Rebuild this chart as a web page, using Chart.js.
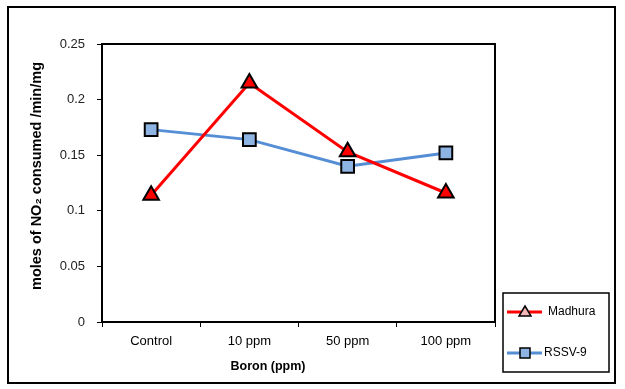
<!DOCTYPE html>
<html>
<head>
<meta charset="utf-8">
<script src="https://cdn.jsdelivr.net/npm/chart.js@4.4.0/dist/chart.umd.min.js"></script>
<style>
    body { margin: 0; background: #fff; }
    canvas { display: block; }
</style>
</head>
<body>
<canvas id="nitriteChart" width="625" height="389"></canvas>
<script>
const categories = ["Control", "10 ppm", "50 ppm", "100 ppm"];
const madhura = [0.114, 0.215, 0.153, 0.116];
const rssv9 = [0.173, 0.164, 0.140, 0.152];
const seriesNames = ["Madhura", "RSSV-9"];

const FONT = "'Liberation Sans', Arial, sans-serif";

// frame, plot border, axis titles and the boxed legend on the right
const decorations = {
    id: "decorations",
    beforeDatasetsDraw(chart) {
        const ctx = chart.ctx;
        const a = chart.chartArea;
        ctx.save();
        ctx.strokeStyle = "#000";
        ctx.lineWidth = 2;
        ctx.strokeRect(a.left, a.top, a.right - a.left, a.bottom - a.top);
        ctx.restore();
    },
    afterDraw(chart) {
        const ctx = chart.ctx;
        ctx.save();

        // outer chart border
        ctx.strokeStyle = "#000";
        ctx.lineWidth = 2;
        ctx.strokeRect(8, 7, 607, 376);

        // axis titles
        ctx.fillStyle = "#000";
        ctx.font = "bold 12.5px " + FONT;
        ctx.textAlign = "center";
        ctx.textBaseline = "middle";
        ctx.fillText("Boron (ppm)", 268, 367);

        ctx.save();
        ctx.font = "bold 14.5px " + FONT;
        ctx.translate(37, 176);
        ctx.rotate(-Math.PI / 2);
        ctx.fillText("moles of NO\u2082 consumed /min/mg", 0, 0);
        ctx.restore();

        // legend
        ctx.lineWidth = 1.5;
        ctx.strokeStyle = "#000";
        ctx.strokeRect(503, 293, 106, 79);

        const rows = [
            { y: 312, text: seriesNames[0], textX: 548, color: "#ff0000", fill: "#f4b6b6", shape: "triangle" },
            { y: 353, text: seriesNames[1], textX: 544, color: "#558ed5", fill: "#8eb4e3", shape: "rect" }
        ];
        rows.forEach(r => {
            ctx.strokeStyle = r.color;
            ctx.lineWidth = 3;
            ctx.beginPath();
            ctx.moveTo(507, r.y);
            ctx.lineTo(542, r.y);
            ctx.stroke();

            ctx.fillStyle = r.fill;
            ctx.strokeStyle = "#000";
            ctx.lineWidth = 1.5;
            ctx.beginPath();
            if (r.shape === "triangle") {
                ctx.moveTo(525, r.y - 6);
                ctx.lineTo(531, r.y + 4);
                ctx.lineTo(519, r.y + 4);
                ctx.closePath();
            } else {
                ctx.rect(520, r.y - 5, 10, 10);
            }
            ctx.fill();
            ctx.stroke();

            ctx.fillStyle = "#000";
            ctx.font = "12px " + FONT;
            ctx.textAlign = "left";
            ctx.textBaseline = "middle";
            ctx.fillText(r.text, r.textX, r.y);
        });

        ctx.restore();
    }
};

new Chart(document.getElementById("nitriteChart"), {
    type: "line",
    data: {
        labels: categories,
        datasets: [{
            label: seriesNames[0],
            data: madhura,
            borderColor: "#ff0000",
            borderWidth: 3,
            backgroundColor: "#ff0000",
            pointStyle: "triangle",
            pointRadius: 9,
            pointBackgroundColor: "#ff0000",
            pointBorderColor: "#000",
            pointBorderWidth: 2,
            tension: 0
        }, {
            label: seriesNames[1],
            data: rssv9,
            borderColor: "#558ed5",
            borderWidth: 3,
            backgroundColor: "#8eb4e3",
            pointStyle: "rect",
            pointRadius: 9,
            pointBackgroundColor: "#8eb4e3",
            pointBorderColor: "#000",
            pointBorderWidth: 2,
            tension: 0
        }]
    },
    options: {
        responsive: false,
        animation: false,
        layout: {
            padding: { top: 44, right: 130, left: 0, bottom: 0 }
        },
        plugins: {
            legend: { display: false },
            tooltip: { enabled: false }
        },
        scales: {
            x: {
                offset: true,
                grid: {
                    offset: true,
                    drawOnChartArea: false,
                    color: "#000",
                    tickLength: 5,
                    tickWidth: 1
                },
                border: { color: "#000", width: 2 },
                ticks: {
                    color: "#000",
                    padding: 7,
                    font: { family: FONT, size: 13 }
                },
                afterFit(scale) { scale.height = 67; }
            },
            y: {
                min: 0,
                max: 0.25,
                grid: {
                    drawOnChartArea: false,
                    color: "#000",
                    tickLength: 5,
                    tickWidth: 1
                },
                border: { color: "#000", width: 2 },
                ticks: {
                    stepSize: 0.05,
                    color: "#222",
                    padding: 12,
                    font: { family: FONT, size: 13 },
                    callback: v => String(Math.round(v * 100) / 100)
                },
                afterFit(scale) { scale.width = 102; }
            }
        }
    },
    plugins: [decorations]
});
</script>
</body>
</html>
